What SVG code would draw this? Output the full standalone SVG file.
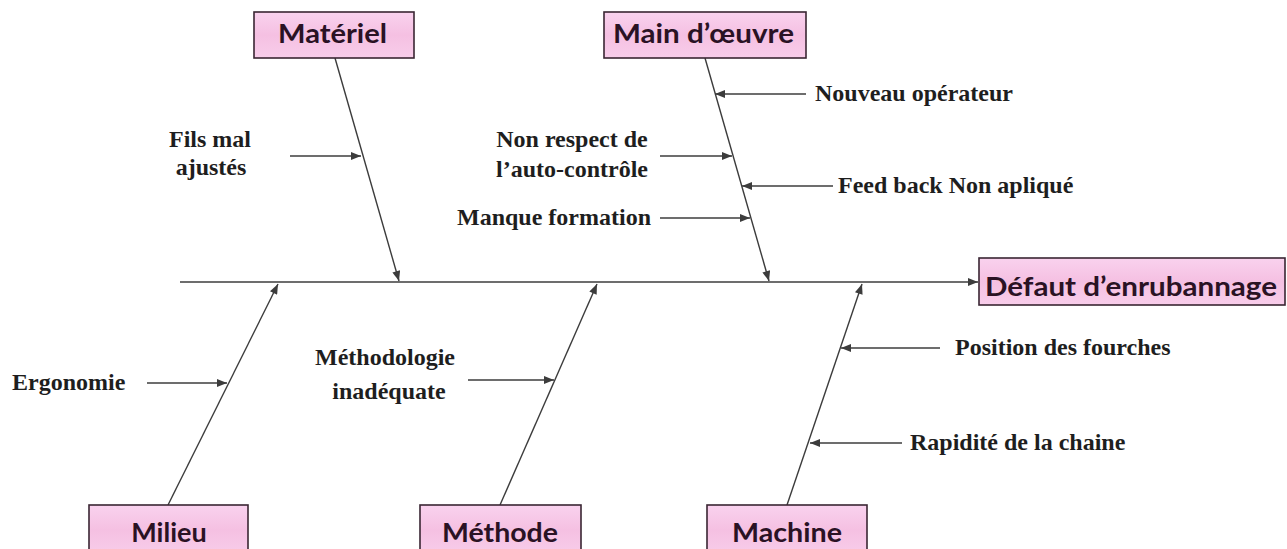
<svg xmlns="http://www.w3.org/2000/svg" width="1287" height="549" viewBox="0 0 1287 549">
<style>
.box{fill:url(#pk);stroke:#3a2633;stroke-width:1.6}
.bt{font-family:"Lato","Open Sans",sans-serif;font-weight:bold;font-size:27px;fill:#2a1224}
.lb{font-family:"Liberation Serif","Times New Roman",serif;font-weight:bold;font-size:24px;fill:#1e1e1e}
.ln{stroke:#3c3c3c;stroke-width:1.4;fill:none;marker-end:url(#ah)}
</style>
<defs>
<linearGradient id="pk" x1="0" y1="0" x2="0" y2="1">
<stop offset="0" stop-color="#f9d2ee"/>
<stop offset="0.5" stop-color="#f5c0e2"/>
<stop offset="1" stop-color="#f8cdea"/>
</linearGradient>
<marker id="ah" viewBox="0 0 10 8" refX="10" refY="4" markerWidth="11" markerHeight="8" markerUnits="userSpaceOnUse" orient="auto">
<path d="M0,0 L10,4 L0,8 z" fill="#3c3c3c"/>
</marker>
</defs>
<g id="connectors">
<line class="ln" x1="180" y1="282" x2="978" y2="282"/>
<line class="ln" x1="335" y1="58" x2="399" y2="281"/>
<line class="ln" x1="705" y1="58" x2="769" y2="281"/>
<line class="ln" x1="168" y1="505" x2="278" y2="284"/>
<line class="ln" x1="500" y1="505" x2="597" y2="284"/>
<line class="ln" x1="787" y1="505" x2="862" y2="284"/>
<line class="ln" x1="290" y1="156" x2="361" y2="156"/>
<line class="ln" x1="806" y1="94" x2="715" y2="94"/>
<line class="ln" x1="660" y1="156" x2="732" y2="156"/>
<line class="ln" x1="833" y1="186" x2="742" y2="186"/>
<line class="ln" x1="660" y1="218" x2="750" y2="218"/>
<line class="ln" x1="147" y1="383" x2="227" y2="383"/>
<line class="ln" x1="468" y1="380" x2="554" y2="380"/>
<line class="ln" x1="940" y1="348" x2="841" y2="348"/>
<line class="ln" x1="902" y1="443" x2="810" y2="443"/>
</g>
<g id="materiel"><rect class="box" x="254" y="12" width="160" height="46"/><text class="bt" x="278" y="43" textLength="109" lengthAdjust="spacingAndGlyphs">Matériel</text></g>
<g id="main-oeuvre"><rect class="box" x="604" y="12" width="202" height="46"/><text class="bt" x="613" y="43" textLength="181" lengthAdjust="spacingAndGlyphs">Main d’œuvre</text></g>
<g id="defaut"><rect class="box" x="979" y="258" width="306" height="47"/><text class="bt" x="985" y="296" textLength="292" lengthAdjust="spacingAndGlyphs">Défaut d’enrubannage</text></g>
<g id="milieu"><rect class="box" x="89" y="505" width="159" height="50"/><text class="bt" x="169" y="542" text-anchor="middle">Milieu</text></g>
<g id="methode"><rect class="box" x="420" y="505" width="161" height="50"/><text class="bt" x="442" y="542" textLength="116" lengthAdjust="spacingAndGlyphs">Méthode</text></g>
<g id="machine"><rect class="box" x="707" y="505" width="160" height="50"/><text class="bt" x="732" y="542" textLength="110" lengthAdjust="spacingAndGlyphs">Machine</text></g>
<g id="labels">
<text class="lb" x="210" y="147" text-anchor="middle">Fils mal</text>
<text class="lb" x="211" y="175" text-anchor="middle">ajustés</text>
<text class="lb" x="815" y="101">Nouveau opérateur</text>
<text class="lb" x="572" y="147" text-anchor="middle">Non respect de</text>
<text class="lb" x="572" y="177" text-anchor="middle">l’auto-contrôle</text>
<text class="lb" x="838" y="193">Feed back Non apliqué</text>
<text class="lb" x="651" y="225" text-anchor="end">Manque formation</text>
<text class="lb" x="12" y="390">Ergonomie</text>
<text class="lb" x="385" y="365" text-anchor="middle">Méthodologie</text>
<text class="lb" x="389" y="399" text-anchor="middle">inadéquate</text>
<text class="lb" x="955" y="355">Position des fourches</text>
<text class="lb" x="910" y="450">Rapidité de la chaine</text>
</g>
</svg>
